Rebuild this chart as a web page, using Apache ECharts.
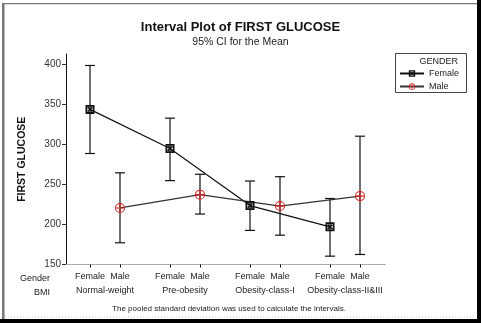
<!DOCTYPE html>
<html><head><meta charset="utf-8">
<script src="https://cdn.jsdelivr.net/npm/echarts@6/dist/echarts.min.js"></script>
<style>html,body{margin:0;padding:0;background:#fff}#c{width:481px;height:323px}</style>
</head><body><div id="c"></div>
<script>
// ---- data ----
const bmiGroups = ['Normal-weight', 'Pre-obesity', 'Obesity-class-I', 'Obesity-class-II&III'];
const genders = ['Female', 'Male'];
const femaleMean = [343.4, 294.6, 223.5, 197.0];
const femaleLow  = [288.4, 254.6, 192.5, 160.4];
const femaleHigh = [398.2, 332.5, 254.1, 232.3];
const maleMean = [220.5, 237.1, 222.9, 235.3];
const maleLow  = [177.1, 212.9, 186.6, 162.5];
const maleHigh = [264.3, 262.5, 259.5, 310.0];
const yTicks = [150, 200, 250, 300, 350, 400];

// ---- layout of category slots (axis units) ----
const groupStep = 8, genderStep = 3;
const slotPos = [], slotGender = [];
bmiGroups.forEach((g, gi) => genders.forEach((s, si) => {
  slotPos.push(gi * groupStep + si * genderStep); slotGender.push(s);
}));
const groupCenters = bmiGroups.map((g, gi) => gi * groupStep + genderStep / 2);
const xPos = (gi, si) => gi * groupStep + si * genderStep;
const lookup = (arr, labels, v) => { const i = arr.findIndex(p => Math.abs(p - v) < 1e-6); return i >= 0 ? labels[i] : ''; };

const FONT = '"Liberation Sans",Arial,sans-serif';
const femaleSym = 'path://M0,0L10,0L10,10L0,10Z M2,2L2,8L8,8L8,2Z M2,3.2L3.2,2L8,6.8L6.8,8Z M6.8,2L8,3.2L3.2,8L2,6.8Z';
const maleSym = 'path://M0,5A5,5 0 1 0 10,5A5,5 0 1 0 0,5Z M1,5A4,4 0 1 1 9,5A4,4 0 1 1 1,5Z M1,4.45L9,4.45L9,5.55L1,5.55Z M4.45,1L5.55,1L5.55,9L4.45,9Z';
const RED = '#d42020';

function errData(low, high, si) { return low.map((l, gi) => [xPos(gi, si), l, high[gi]]); }
function errRender(params, api) {
  const x = api.value(0);
  const p1 = api.coord([x, api.value(1)]);
  const p2 = api.coord([x, api.value(2)]);
  const w = 5;
  const st = { stroke: '#111', lineWidth: 1.2 };
  return { type: 'group', children: [
    { type: 'line', shape: { x1: p1[0], y1: p1[1], x2: p2[0], y2: p2[1] }, style: st },
    { type: 'line', shape: { x1: p1[0] - w, y1: p1[1], x2: p1[0] + w, y2: p1[1] }, style: st },
    { type: 'line', shape: { x1: p2[0] - w, y1: p2[1], x2: p2[0] + w, y2: p2[1] }, style: st }
  ]};
}

const chart = echarts.init(document.getElementById('c'), null, { renderer: 'canvas' });
const xMin = -2.4, xMax = 29.5;
chart.setOption({
  animation: false,
  backgroundColor: '#fff',
  title: {
    text: 'Interval Plot of FIRST GLUCOSE', subtext: '95% CI for the Mean',
    left: 'center', top: 16, itemGap: 3,
    textStyle: { fontFamily: FONT, fontSize: 13, fontWeight: 'bold', color: '#111' },
    subtextStyle: { fontFamily: FONT, fontSize: 10.5, color: '#222' }
  },
  legend: {
    left: 399, top: 69, padding: 0, orient: 'vertical', itemWidth: 24, itemHeight: 8, itemGap: 4,
    textStyle: { fontFamily: FONT, fontSize: 9, color: '#222' },
    data: genders
  },
  grid: { left: 66, right: 96, top: 54, bottom: 58.5 },
  xAxis: [{
    type: 'value', min: xMin, max: xMax,
    axisLine: { show: true, onZero: false, lineStyle: { color: '#999', type: 'dotted', width: 1 } },
    axisTick: { show: true, customValues: slotPos, length: 3, inside: false, lineStyle: { color: '#111' } },
    axisLabel: { customValues: slotPos, margin: 8, fontFamily: FONT, fontSize: 9, color: '#222',
      formatter: v => lookup(slotPos, slotGender, v) },
    splitLine: { show: false }
  }, {
    type: 'value', min: xMin, max: xMax, position: 'bottom', offset: 14,
    axisLine: { show: false }, axisTick: { show: false }, splitLine: { show: false },
    axisLabel: { customValues: groupCenters, margin: 8, fontFamily: FONT, fontSize: 9, color: '#222',
      formatter: v => lookup(groupCenters, bmiGroups, v) }
  }],
  yAxis: {
    type: 'value', min: 150, max: 412.5,
    name: 'FIRST GLUCOSE', nameLocation: 'middle', nameGap: 38,
    nameTextStyle: { fontFamily: FONT, fontSize: 10.5, fontWeight: 'bold', color: '#111' },
    axisLine: { show: true, onZero: false, lineStyle: { color: '#111', width: 1 } },
    axisTick: { show: true, customValues: yTicks, length: 4, lineStyle: { color: '#333' } },
    axisLabel: { customValues: yTicks, margin: 5, fontFamily: FONT, fontSize: 10, color: '#333' },
    splitLine: { show: false }
  },
  graphic: [
    { type: 'rect', shape: { x: 2, y: 3, width: 2.5, height: 316 }, style: { fill: '#777' }, silent: true },
    { type: 'rect', shape: { x: 2, y: 3, width: 475, height: 1.2 }, style: { fill: '#777' }, silent: true },
    { type: 'rect', shape: { x: 477, y: 0, width: 4, height: 323 }, style: { fill: '#000' }, silent: true },
    { type: 'rect', shape: { x: 0, y: 319, width: 481, height: 4 }, style: { fill: '#000' }, silent: true },
    { type: 'line', shape: { x1: 5, y1: 317, x2: 476, y2: 317 }, style: { stroke: '#ccc', lineDash: [1, 2] }, silent: true },
    { type: 'rect', shape: { x: 395.5, y: 53.5, width: 71, height: 39 }, style: { fill: 'none', stroke: '#444', lineWidth: 1 }, silent: true },
    { type: 'text', style: { x: 458, y: 62, text: 'GENDER', align: 'right', verticalAlign: 'middle', font: '9px ' + FONT, fill: '#222' }, silent: true },
    { type: 'text', style: { x: 50, y: 278.5, text: 'Gender', align: 'right', verticalAlign: 'middle', font: '9px ' + FONT, fill: '#222' }, silent: true },
    { type: 'text', style: { x: 50, y: 292.5, text: 'BMI', align: 'right', verticalAlign: 'middle', font: '9px ' + FONT, fill: '#222' }, silent: true },
    { type: 'text', style: { x: 229, y: 309, text: 'The pooled standard deviation was used to calculate the intervals.', align: 'center', verticalAlign: 'middle', font: '8px ' + FONT, fill: '#222' }, silent: true }
  ],
  series: [
    { name: 'Female CI', type: 'custom', renderItem: errRender, data: errData(femaleLow, femaleHigh, 0), encode: { x: 0, y: [1, 2] }, z: 2, silent: true },
    { name: 'Male CI', type: 'custom', renderItem: errRender, data: errData(maleLow, maleHigh, 1), encode: { x: 0, y: [1, 2] }, z: 2, silent: true },
    { name: 'Female', type: 'line', data: femaleMean.map((v, gi) => [xPos(gi, 0), v]),
      symbol: femaleSym, symbolSize: 9, showAllSymbol: true,
      lineStyle: { color: '#111', width: 1.2 }, itemStyle: { color: '#111' }, z: 4 },
    { name: 'Male', type: 'line', data: maleMean.map((v, gi) => [xPos(gi, 1), v]),
      symbol: maleSym, symbolSize: 10, showAllSymbol: true,
      lineStyle: { color: '#333', width: 1.2 }, itemStyle: { color: RED }, z: 4 }
  ]
});
</script></body></html>
